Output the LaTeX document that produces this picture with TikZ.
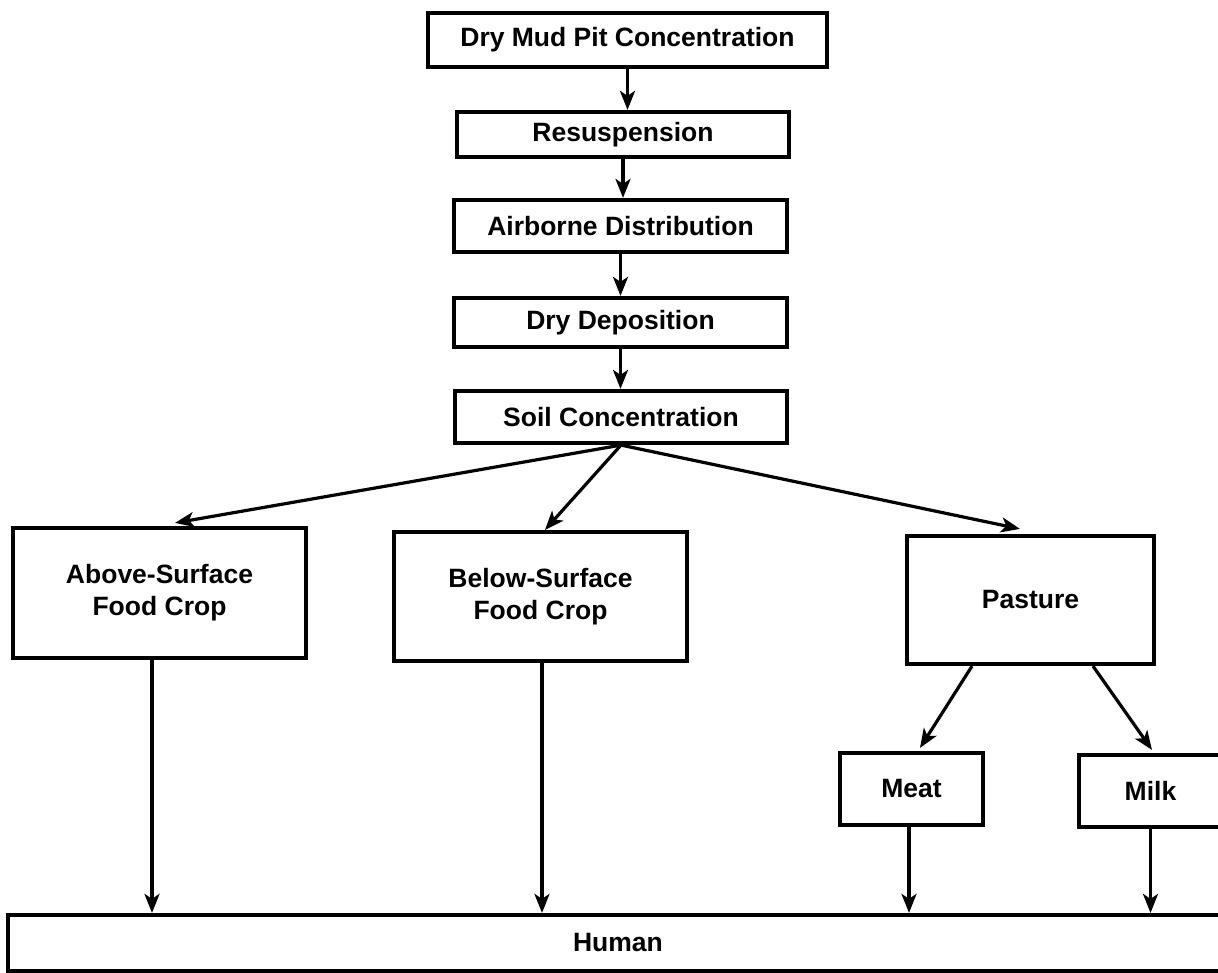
\documentclass[tikz,border=0pt]{standalone}
\usepackage{fontspec}
\setmainfont{Liberation Sans}
\usetikzlibrary{arrows.meta}
\tikzset{
  box/.style={draw=black, line width=4.2pt, fill=white, inner sep=0pt, align=center,
    font=\fontsize{26.5}{32}\selectfont\bfseries},
  arr/.style={line width=3.2pt, -{Stealth[length=19pt,width=15pt,inset=5pt]}},
}
\begin{document}
\begin{tikzpicture}[x=1pt,y=-1pt]
\useasboundingbox[fill=white] (0,0) rectangle (1218,973);
% top chain
\node[box, minimum width=399pt, minimum height=54pt] (dmp) at (627.5,40) {Dry Mud Pit Concentration};
\node[box, minimum width=332pt, minimum height=45pt] (res) at (623,134.5) {Resuspension};
\node[box, minimum width=333pt, minimum height=52pt] (air) at (620.5,226) {Airborne Distribution};
\node[box, minimum width=333pt, minimum height=49pt] (dd) at (620.5,322.5) {Dry Deposition};
\node[box, minimum width=332pt, minimum height=52pt] (soil) at (621,417) {Soil Concentration};
% second level
\node[box, minimum width=293pt, minimum height=130pt] (above) at (159.5,593) {Above-Surface\\Food Crop};
\node[box, minimum width=293pt, minimum height=129pt] (below) at (540.5,596.5) {Below-Surface\\Food Crop};
\node[box, minimum width=247pt, minimum height=128pt] (pasture) at (1030.5,600) {Pasture};
% third level
\node[box, minimum width=143pt, minimum height=72pt] (meat) at (911.5,789) {Meat};
\node[box, minimum width=143pt, minimum height=72pt] (milk) at (1150.5,791) {Milk};
% bottom
\node[box, minimum width=1220pt, minimum height=56pt] (human) at (618,943) {Human};
% connectors
\draw[arr] (dmp.south) -- (dmp.south |- res.north);
\draw[arr] (res.south) -- (res.south |- air.north);
\draw[arr] (air.south) -- (air.south |- dd.north);
\draw[arr] (dd.south) -- (dd.south |- soil.north);
\draw[arr] (soil.south) -- ([xshift=15.5pt,yshift=3pt]above.north);
\draw[arr] (soil.south) -- ([xshift=4.5pt]below.north);
\draw[arr] (soil.south) -- ([xshift=-10.5pt,yshift=5pt]pasture.north);
\draw[arr] ([xshift=-58.5pt]pasture.south) -- ([xshift=8.5pt,yshift=3pt]meat.north);
\draw[arr] ([xshift=62.5pt]pasture.south) -- ([xshift=1.5pt,yshift=3pt]milk.north);
\draw[arr] ([xshift=-7.5pt]above.south) -- ([xshift=-7.5pt]above.south |- human.north);
\draw[arr] ([xshift=1.5pt]below.south) -- ([xshift=1.5pt]below.south |- human.north);
\draw[arr] ([xshift=-2.5pt]meat.south) -- ([xshift=-2.5pt]meat.south |- human.north);
\draw[arr] (milk.south) -- (milk.south |- human.north);
\end{tikzpicture}
\end{document}
